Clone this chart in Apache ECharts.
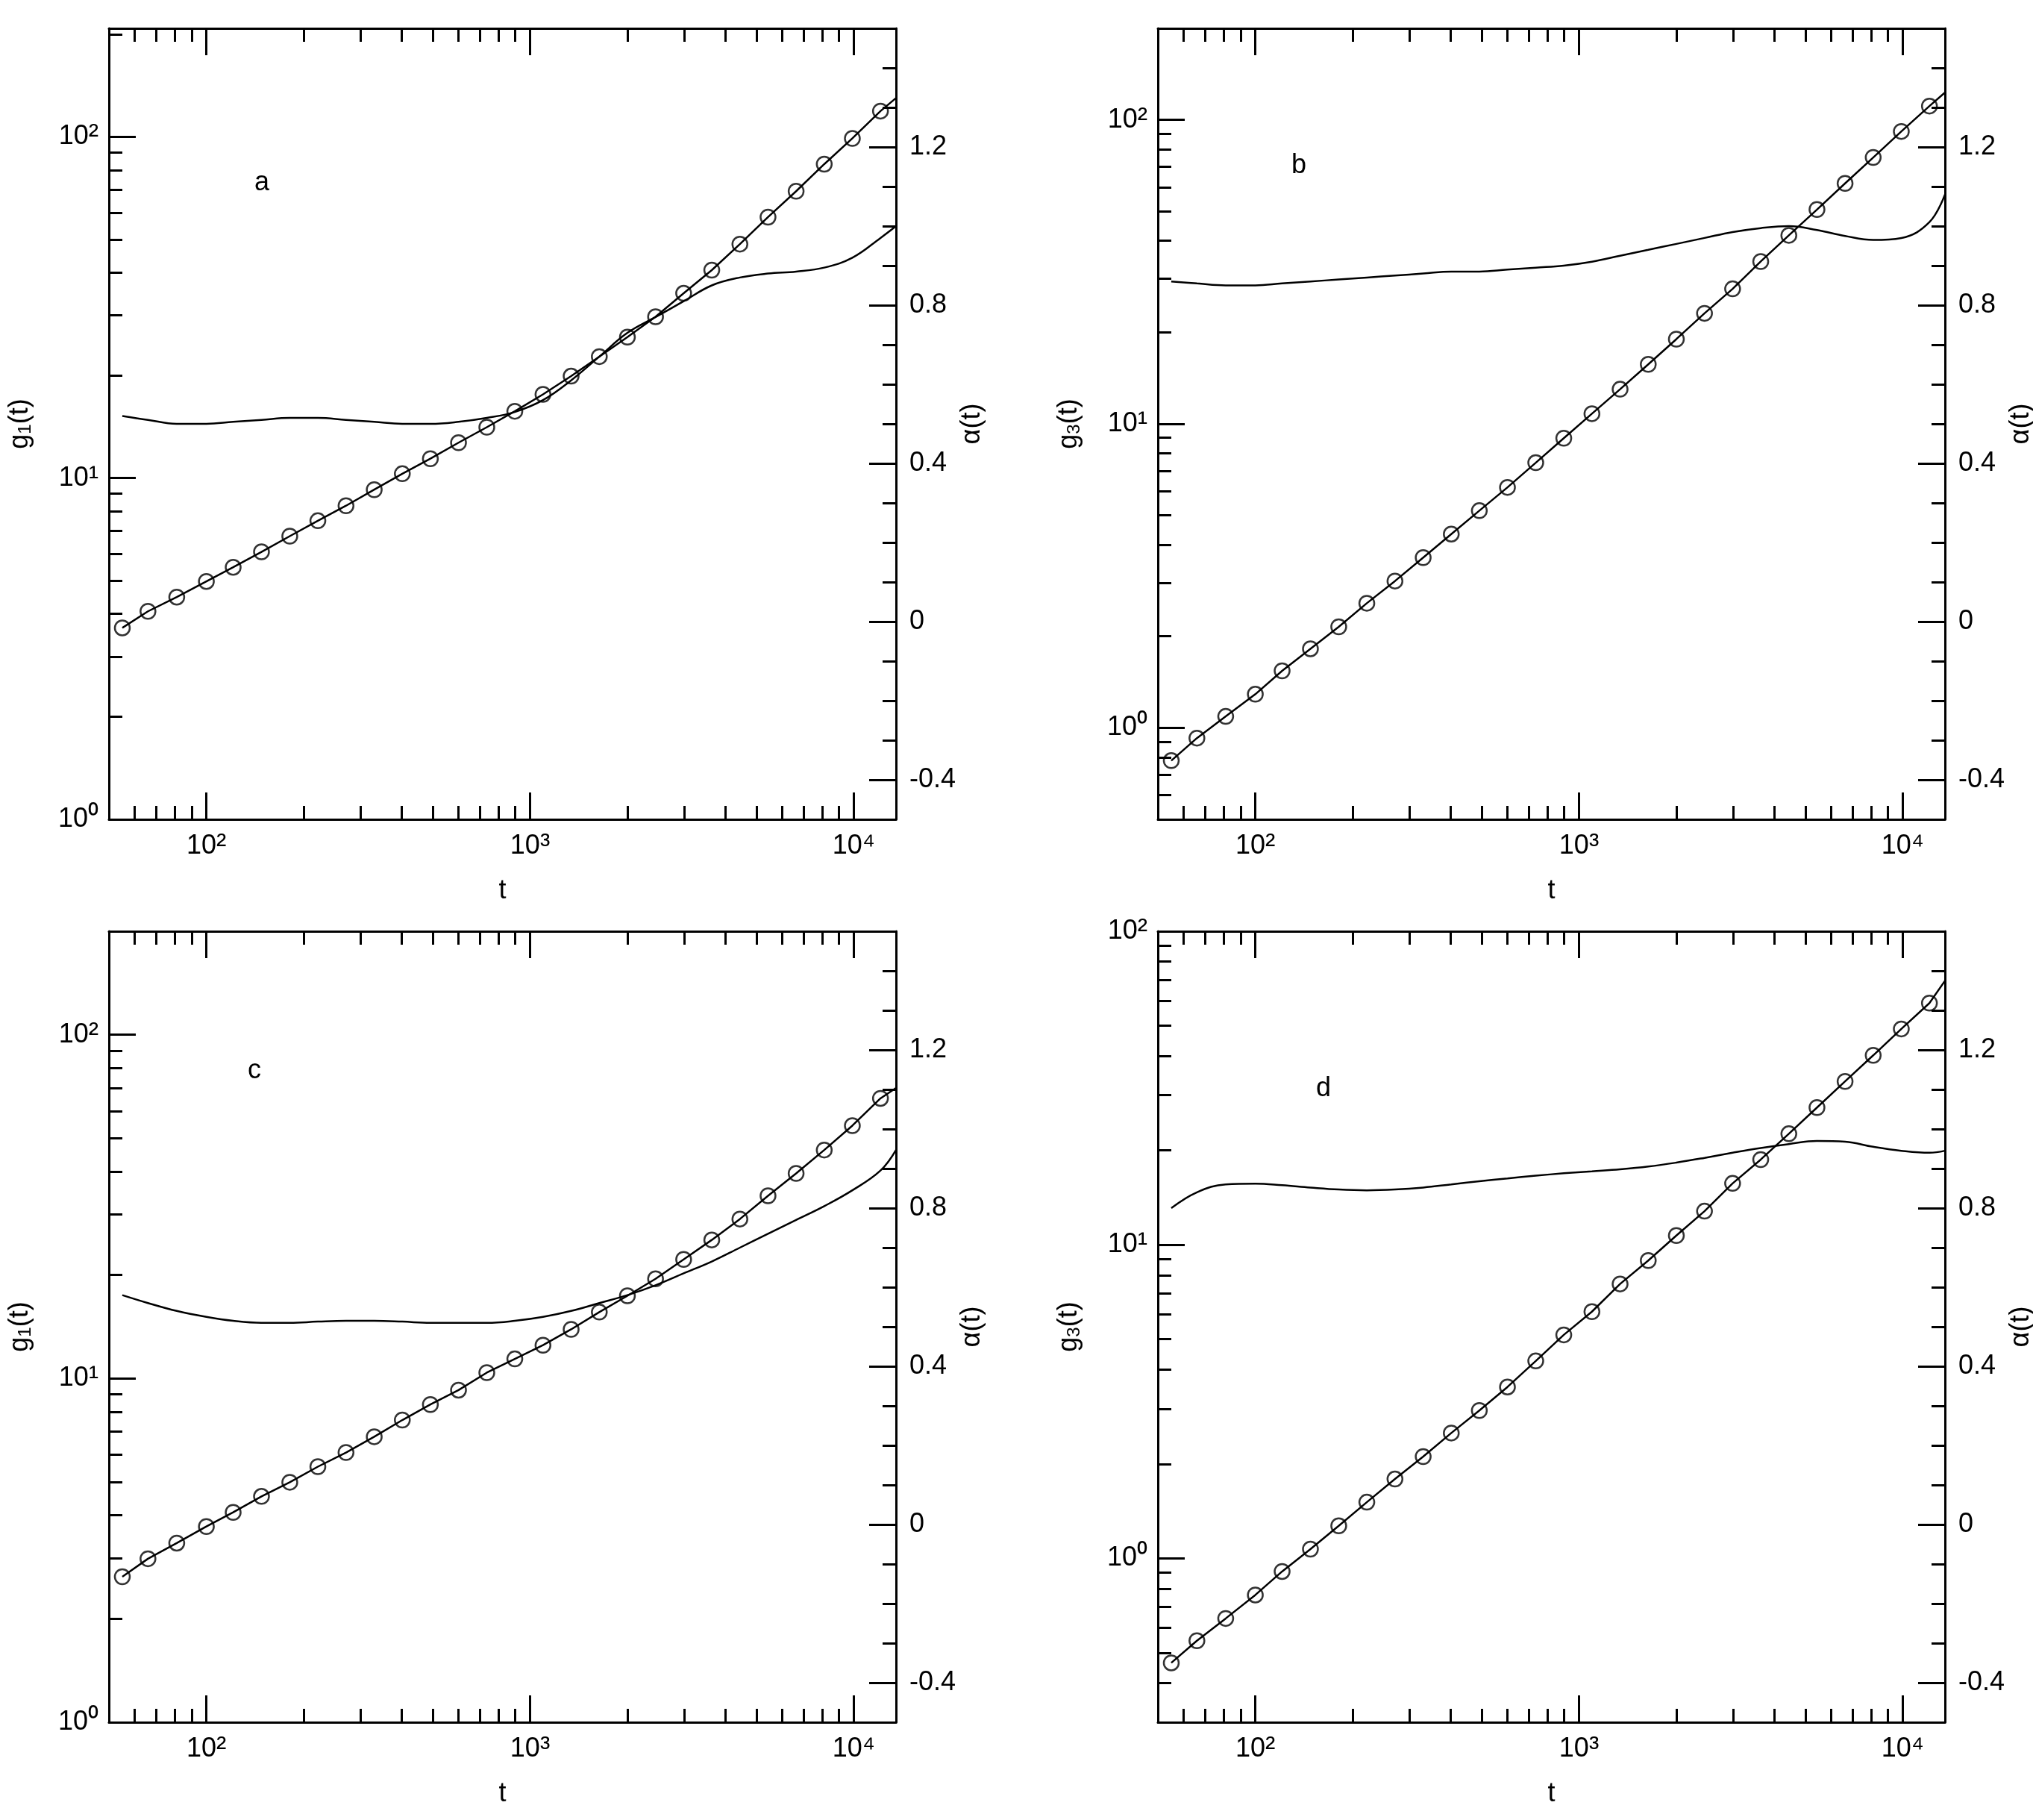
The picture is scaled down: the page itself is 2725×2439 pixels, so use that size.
<!DOCTYPE html>
<html>
<head>
<meta charset="utf-8">
<script src="https://cdn.jsdelivr.net/npm/echarts@6/dist/echarts.min.js"></script>
<style>html,body{margin:0;padding:0;background:#fff}#main{width:2725px;height:2439px}</style>
</head>
<body>
<div id="main"></div>
<script>
// marker times (shared by all panels), last entry of line arrays is the end of the curve
var tMarks = [55, 66, 81, 100, 121, 148, 181, 221, 270, 330, 403, 492, 601, 735, 897, 1096, 1339, 1636, 1998, 2441, 2981, 3641, 4447, 5432, 6634, 8103, 9897, 12088];
var tEnd = 13500;

var gA = [3.64, 4.07, 4.48, 4.98, 5.48, 6.08, 6.76, 7.5, 8.3, 9.25, 10.3, 11.4, 12.7, 14.1, 15.7, 17.6, 19.9, 22.7, 25.9, 29.7, 34.8, 40.7, 48.5, 58.2, 69.3, 83.2, 99, 119];
var gAEnd = 130;
var alphaA = [0.52, 0.51, 0.5, 0.5, 0.505, 0.51, 0.515, 0.515, 0.51, 0.505, 0.5, 0.5, 0.505, 0.515, 0.53, 0.56, 0.61, 0.67, 0.73, 0.77, 0.81, 0.85, 0.87, 0.88, 0.885, 0.895, 0.92, 0.97, 1.0];

var gB = [0.78, 0.925, 1.09, 1.29, 1.54, 1.82, 2.15, 2.57, 3.04, 3.63, 4.34, 5.18, 6.18, 7.45, 8.97, 10.8, 13.0, 15.7, 19.0, 23.1, 27.8, 34.2, 41.7, 50.7, 61.8, 75.2, 91.6, 111];
var gBEnd = 123;
var alphaB = [0.86, 0.855, 0.85, 0.85, 0.855, 0.86, 0.865, 0.87, 0.875, 0.88, 0.885, 0.885, 0.89, 0.895, 0.9, 0.91, 0.925, 0.94, 0.955, 0.97, 0.985, 0.995, 1.0, 0.99, 0.975, 0.965, 0.97, 1.01, 1.08];

var gC = [2.65, 2.99, 3.32, 3.71, 4.08, 4.54, 4.99, 5.54, 6.09, 6.77, 7.57, 8.4, 9.25, 10.4, 11.4, 12.5, 13.9, 15.6, 17.4, 19.5, 22.2, 25.3, 29.1, 34.0, 39.5, 46.2, 54.4, 65.3];
var gCEnd = 70;
var alphaC = [0.58, 0.56, 0.54, 0.525, 0.515, 0.51, 0.51, 0.513, 0.515, 0.515, 0.513, 0.51, 0.51, 0.51, 0.515, 0.525, 0.54, 0.56, 0.58, 0.605, 0.635, 0.665, 0.7, 0.735, 0.77, 0.805, 0.845, 0.895, 0.947];

var gD = [0.464, 0.546, 0.643, 0.764, 0.908, 1.07, 1.27, 1.51, 1.79, 2.11, 2.51, 2.96, 3.52, 4.26, 5.16, 6.12, 7.5, 8.91, 10.7, 12.8, 15.7, 18.7, 22.6, 27.4, 33.2, 40.2, 48.8, 59.0];
var gDEnd = 69.5;
var alphaD = [0.8, 0.84, 0.86, 0.862, 0.858, 0.852, 0.847, 0.845, 0.847, 0.852, 0.86, 0.868, 0.875, 0.882, 0.888, 0.893, 0.898, 0.905, 0.915, 0.927, 0.94, 0.952, 0.962, 0.97, 0.968, 0.955, 0.945, 0.94, 0.945];

var xMajor = [100, 1000, 10000];
var xMinor = [60, 70, 80, 90, 200, 300, 400, 500, 600, 700, 800, 900, 2000, 3000, 4000, 5000, 6000, 7000, 8000, 9000];
var yMajor = [1, 10, 100];
var yMinor = [0.3, 0.4, 0.5, 0.6, 0.7, 0.8, 0.9, 2, 3, 4, 5, 6, 7, 8, 9, 20, 30, 40, 50, 60, 70, 80, 90, 200];
var aMajor = [-0.4, 0, 0.4, 0.8, 1.2];
var aMinor = [-0.5, -0.3, -0.2, -0.1, 0.1, 0.2, 0.3, 0.5, 0.6, 0.7, 0.9, 1.0, 1.1, 1.3, 1.4, 1.5];

var panels = [
  {letter: 'a', sub: '1', g: gA, gEnd: gAEnd, alpha: alphaA, yMin: 1, yMax: 208, left: 146, top: 38, lx: 351, ly: 249},
  {letter: 'b', sub: '3', g: gB, gEnd: gBEnd, alpha: alphaB, yMin: 0.5, yMax: 200, left: 1552, top: 38, lx: 1741, ly: 226},
  {letter: 'c', sub: '1', g: gC, gEnd: gCEnd, alpha: alphaC, yMin: 1, yMax: 200, left: 146, top: 1248, lx: 342, ly: 1439},
  {letter: 'd', sub: '3', g: gD, gEnd: gDEnd, alpha: alphaD, yMin: 0.3, yMax: 100, left: 1552, top: 1248, lx: 1774, ly: 1463}
];

var FONT = 'Liberation Sans';
var black = '#000';
var SUP = {'0': '⁰', '1': '¹', '2': '²', '3': '³', '4': '⁴'};
var powRich = {
  b: {fontSize: 36, fontFamily: FONT, color: black},
  sup: {fontSize: 40, fontFamily: FONT, color: black}
};
function powLabel(v) {
  return '{b|10}{sup|' + SUP[String(Math.round(Math.log10(v)))] + '}';
}

var grids = [], xAxes = [], yAxes = [], series = [], graphics = [];

panels.forEach(function(p, i) {
  grids.push({left: p.left, top: p.top, width: 1055, height: 1060, outerBoundsMode: 'none', containLabel: false});
  var xBase = {type: 'log', gridIndex: i, min: 50, max: 13500, splitLine: {show: false},
    axisLine: {show: true, onZero: false, lineStyle: {color: black, width: 3}}};
  // bottom major
  xAxes.push(Object.assign({}, xBase, {position: 'bottom', name: 't', nameLocation: 'middle', nameGap: 78,
    nameTextStyle: {fontSize: 36, fontFamily: FONT, color: black},
    axisTick: {inside: true, length: 36, lineStyle: {width: 3, color: black}, customValues: xMajor},
    axisLabel: {margin: 16, customValues: xMajor, formatter: powLabel, rich: powRich}}));
  xAxes.push(Object.assign({}, xBase, {position: 'bottom', axisLine: {show: false, onZero: false},
    axisTick: {inside: true, length: 18, lineStyle: {width: 3, color: black}, customValues: xMinor},
    axisLabel: {show: false}}));
  xAxes.push(Object.assign({}, xBase, {position: 'top',
    axisTick: {inside: true, length: 36, lineStyle: {width: 3, color: black}, customValues: xMajor},
    axisLabel: {show: false}}));
  xAxes.push(Object.assign({}, xBase, {position: 'top', axisLine: {show: false, onZero: false},
    axisTick: {inside: true, length: 18, lineStyle: {width: 3, color: black}, customValues: xMinor},
    axisLabel: {show: false}}));

  var yBase = {type: 'log', gridIndex: i, min: p.yMin, max: p.yMax, splitLine: {show: false},
    axisLine: {show: true, onZero: false, lineStyle: {color: black, width: 3}}};
  var yMin2 = yMinor.filter(function(v) { return v > p.yMin && v < p.yMax; });
  yAxes.push(Object.assign({}, yBase, {position: 'left', name: '{n|g}{s|' + p.sub + '}{n|(t)}',
    nameLocation: 'middle', nameGap: 100, nameRotate: 90,
    nameTextStyle: {rich: {n: {fontSize: 36, fontFamily: FONT, color: black},
      s: {fontSize: 24, fontFamily: FONT, color: black, padding: [14, 0, 0, 0]}}},
    axisTick: {inside: true, length: 36, lineStyle: {width: 3, color: black}, customValues: yMajor},
    axisLabel: {margin: 14, customValues: yMajor, formatter: powLabel, rich: powRich}}));
  yAxes.push(Object.assign({}, yBase, {position: 'left', axisLine: {show: false, onZero: false},
    axisTick: {inside: true, length: 18, lineStyle: {width: 3, color: black}, customValues: yMin2},
    axisLabel: {show: false}}));

  var aBase = {type: 'value', gridIndex: i, min: -0.5, max: 1.5, position: 'right', splitLine: {show: false},
    axisLine: {show: true, onZero: false, lineStyle: {color: black, width: 3}}};
  yAxes.push(Object.assign({}, aBase, {name: 'α(t)', nameLocation: 'middle', nameGap: 68, nameRotate: 90,
    nameTextStyle: {fontSize: 36, fontFamily: FONT, color: black},
    axisTick: {inside: true, length: 36, lineStyle: {width: 3, color: black}, customValues: aMajor},
    axisLabel: {margin: 18, customValues: aMajor, fontSize: 36, fontFamily: FONT, color: black,
      formatter: function(v) { return String(Math.round(v * 10) / 10); }}}));
  yAxes.push(Object.assign({}, aBase, {axisLine: {show: false, onZero: false},
    axisTick: {inside: true, length: 18, lineStyle: {width: 3, color: black}, customValues: aMinor},
    axisLabel: {show: false}}));

  var xi = i * 4, yi = i * 4;
  var gLine = tMarks.map(function(t, k) { return [t, p.g[k]]; });
  gLine.push([tEnd, p.gEnd]);
  var aLine = tMarks.map(function(t, k) { return [t, p.alpha[k]]; });
  aLine.push([tEnd, p.alpha[p.alpha.length - 1]]);
  series.push({type: 'line', xAxisIndex: xi, yAxisIndex: yi, data: gLine, showSymbol: false,
    lineStyle: {color: black, width: 2.5}, z: 3});
  series.push({type: 'scatter', xAxisIndex: xi, yAxisIndex: yi,
    data: tMarks.map(function(t, k) { return [t, p.g[k]]; }),
    symbol: 'circle', symbolSize: 20, itemStyle: {color: 'rgba(0,0,0,0)', borderColor: black, borderWidth: 2.5}, z: 4});
  series.push({type: 'line', xAxisIndex: xi, yAxisIndex: yi + 2, data: aLine, showSymbol: false, smooth: 0.4,
    lineStyle: {color: black, width: 2.5}, z: 3});

  graphics.push({type: 'text', left: p.lx - 10, top: p.ly - 22,
    style: {text: p.letter, fontSize: 36, fontFamily: FONT, fill: black}});
});

var myChart = echarts.init(document.getElementById('main'), null, {renderer: 'canvas'});
myChart.setOption({
  backgroundColor: '#fff',
  animation: false,
  grid: grids,
  xAxis: xAxes,
  yAxis: yAxes,
  series: series,
  graphic: graphics
});
</script>
</body>
</html>
